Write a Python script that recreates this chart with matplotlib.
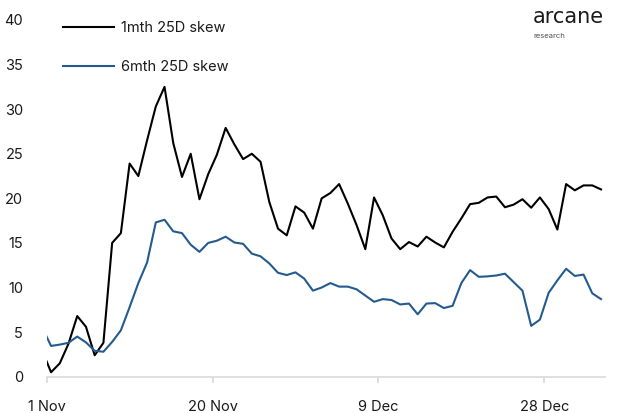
import matplotlib
matplotlib.use("Agg")
import matplotlib.pyplot as plt
import pandas as pd

# daily 25-delta skew, 31 Oct 2022 - 3 Jan 2023 (first day sits just left of the axis)
dates = pd.date_range("2022-10-31", "2023-01-03", freq="D")

skew_1m = [2.9, 0.5, 1.5, 3.7, 6.8, 5.6, 2.4, 3.8, 15.0, 16.1,
           23.9, 22.5, 26.5, 30.3, 32.5, 26.2, 22.4, 25.0, 19.9, 22.7,
           24.9, 27.9, 26.05, 24.4, 25.0, 24.1, 19.6, 16.6, 15.85, 19.1,
           18.4, 16.6, 20.0, 20.6, 21.6, 19.4, 17.0, 14.3, 20.1, 18.1,
           15.5, 14.3, 15.1, 14.6, 15.7, 15.05, 14.5, 16.25, 17.75, 19.35,
           19.5, 20.1, 20.2, 19.0, 19.3, 19.9, 18.95, 20.1, 18.8, 16.5,
           21.6, 20.9, 21.45, 21.45, 21.0]

skew_6m = [5.5, 3.45, 3.6, 3.8, 4.5, 3.85, 2.9, 2.8, 3.9, 5.2,
           7.8, 10.5, 12.8, 17.3, 17.6, 16.3, 16.1, 14.8, 14.0, 15.0,
           15.25, 15.7, 15.05, 14.9, 13.8, 13.5, 12.7, 11.65, 11.4, 11.7,
           11.0, 9.65, 10.0, 10.5, 10.1, 10.1, 9.8, 9.1, 8.4, 8.7,
           8.6, 8.1, 8.2, 7.0, 8.2, 8.25, 7.7, 7.95, 10.5, 11.95,
           11.2, 11.25, 11.35, 11.55, 10.6, 9.65, 5.7, 6.4, 9.4, 10.8,
           12.1, 11.3, 11.45, 9.35, 8.7]

tick_dates = pd.to_datetime(["2022-11-01", "2022-11-20", "2022-12-09", "2022-12-28"])
tick_labels = [f"{d.day} {d:%b}" for d in tick_dates]
y_ticks = [0, 5, 10, 15, 20, 25, 30, 35, 40]

plt.rcParams["font.family"] = ["Inter", "DejaVu Sans"]

fig = plt.figure(figsize=(6.19, 4.13), dpi=100)
ax = fig.add_axes([0.0754, 0.0879, 0.9026, 0.8637])

# each day is plotted at its midpoint
x = dates + pd.Timedelta(hours=12)
ax.plot(x, skew_1m, color="#000000", lw=1.5, label="1mth 25D skew")
ax.plot(x, skew_6m, color="#245b8f", lw=1.5, label="6mth 25D skew")

ax.set_xlim(pd.Timestamp("2022-11-01"), pd.Timestamp("2023-01-04"))
ax.set_ylim(0, 40)
ax.set_xticks(tick_dates)
ax.set_xticklabels(tick_labels)
ax.set_yticks(y_ticks)

for side in ["top", "right", "left"]:
    ax.spines[side].set_visible(False)
ax.spines["bottom"].set_color("#d9d9d9")
ax.spines["bottom"].set_linewidth(1.2)
ax.tick_params(axis="x", colors="#d9d9d9", length=4, width=1.2, pad=13,
               labelcolor="#1a1a1a", labelsize=10.5)
ax.tick_params(axis="y", length=0, pad=17, labelcolor="#1a1a1a", labelsize=10.5)

leg = ax.legend(loc="upper left", bbox_to_anchor=(0.006, 1.035), frameon=False,
                fontsize=10.5, handlelength=3.5, handletextpad=0.5,
                labelspacing=1.75)
for t in leg.get_texts():
    t.set_color("#1a1a1a")

fig.text(0.861, 0.958, "arcane", fontsize=15, color="#1a1a1a",
         ha="left", va="center", family=["DejaVu Sans"])
fig.text(0.862, 0.913, "research", fontsize=5.5, color="#4d4d4d",
         ha="left", va="center")

fig.savefig("out.png", dpi=100)
